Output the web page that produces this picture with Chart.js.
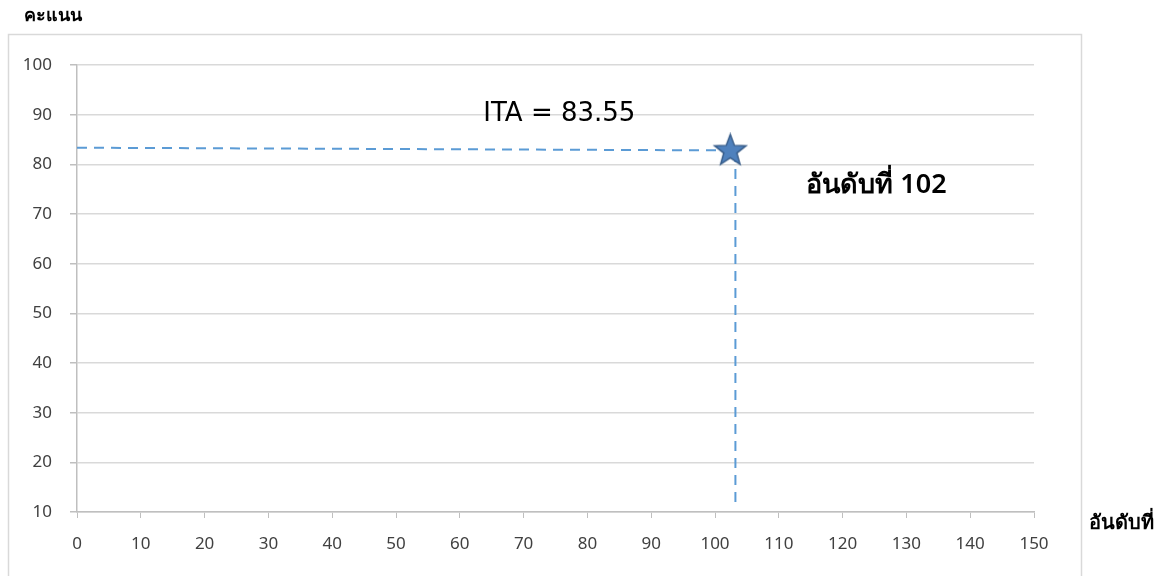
<!DOCTYPE html>
<html>
<head>
<meta charset="utf-8">
<script src="https://cdn.jsdelivr.net/npm/chart.js@4.4.0/dist/chart.umd.min.js"></script>
<style>
  html,body{margin:0;padding:0;background:#fff;overflow:hidden;}
  canvas{display:block;}
</style>
</head>
<body>
<canvas id="c" width="1161" height="576"></canvas>
<script>
// ข้อมูลกราฟ
const xTicks = [0,10,20,30,40,50,60,70,80,90,100,110,120,130,140,150];
const yTicks = [10,20,30,40,50,60,70,80,90,100];
const hLineX = [0, 102.4];
const hLineY = [83.35, 82.8];
const vLineX = [103.2, 103.2];
const vLineY = [82.5, 11.4];
const starX = [102.4];
const starY = [82.7];
const itaLabel = "ITA = 83.55";
const rankLabel = "อันดับที่ 102";
const yTitle = "คะแนน";
const xTitle = "อันดับที่";

const FONT = "'Noto Sans','Open Sans','DejaVu Sans',sans-serif";
const WIDE = "'DejaVu Sans','Noto Sans',sans-serif";
const BLUE = "#5b9bd5";

const pts = (xs, ys) => xs.map((x,i)=>({x, y: ys[i]}));

// ดาว 5 แฉก
function makeStar(R){
  const s = Math.ceil(R*2+4), c = document.createElement("canvas");
  c.width = s; c.height = s;
  const g = c.getContext("2d"), cx = s/2, cy = s/2, r = R*0.42;
  g.beginPath();
  for(let i=0;i<10;i++){
    const a = -Math.PI/2 + i*Math.PI/5, rr = i%2 ? r : R;
    g.lineTo(cx + rr*Math.cos(a), cy + rr*Math.sin(a));
  }
  g.closePath();
  g.fillStyle = "#4f81bd"; g.fill();
  g.lineWidth = 1.5; g.strokeStyle = "#385d8a"; g.stroke();
  return c;
}

const frame = {
  id: "frame",
  beforeDraw(chart){
    const g = chart.ctx;
    g.save();
    g.strokeStyle = "#d9d9d9"; g.lineWidth = 1.5;
    g.strokeRect(8.5, 34.5, 1073, 600);
    g.restore();
  },
  afterDraw(chart){
    const g = chart.ctx, xs = chart.scales.x, ys = chart.scales.y;
    g.save();
    g.fillStyle = "#000";
    g.textBaseline = "middle";
    g.font = "bold 18px " + FONT;
    g.textAlign = "left";
    g.fillText(yTitle, 24, 16);
    g.font = "bold 20px " + FONT;
    g.fillText(xTitle, 1089, 523);
    g.font = "26px " + WIDE;
    g.textAlign = "center";
    g.fillText(itaLabel, xs.getPixelForValue(75.6), ys.getPixelForValue(90.1));
    g.font = "600 27px " + FONT;
    g.fillText(rankLabel, xs.getPixelForValue(125.3), ys.getPixelForValue(75.8));
    g.restore();
  }
};

new Chart(document.getElementById("c"), {
  type: "scatter",
  data: {
    datasets: [
      { data: pts(hLineX, hLineY), showLine: true, borderColor: BLUE, borderWidth: 2,
        borderDash: [10,7], pointRadius: 0, order: 2 },
      { data: pts(vLineX, vLineY), showLine: true, borderColor: BLUE, borderWidth: 2,
        borderDash: [10,7], pointRadius: 0, order: 2 },
      { data: pts(starX, starY), pointStyle: makeStar(16.5), pointRadius: 17, order: 1 }
    ]
  },
  plugins: [frame],
  options: {
    responsive: false,
    animation: false,
    devicePixelRatio: 1,
    layout: { padding: { top: 65, right: 127, left: 0, bottom: 0 } },
    plugins: { legend: { display: false }, tooltip: { enabled: false } },
    scales: {
      x: {
        type: "linear", min: 0, max: 150,
        afterBuildTicks: s => { s.ticks = xTicks.map(v=>({value:v})); },
        afterFit: s => { s.height = 64; },
        grid: { drawOnChartArea: false, tickLength: 6, tickColor: "#bfbfbf" },
        border: { color: "#bfbfbf", width: 1.5 },
        ticks: { color: "#404040", font: { family: FONT, size: 17 }, padding: 16,
                 maxRotation: 0, autoSkip: false }
      },
      y: {
        type: "linear", min: 10, max: 100,
        afterBuildTicks: s => { s.ticks = yTicks.map(v=>({value:v})); },
        afterFit: s => { s.width = 77; },
        grid: { color: "#d9d9d9", lineWidth: 1.5, tickLength: 7, tickColor: "#bfbfbf" },
        border: { color: "#bfbfbf", width: 1.5 },
        ticks: { color: "#404040", font: { family: FONT, size: 17 }, padding: 18, autoSkip: false }
      }
    }
  }
});
</script>
</body>
</html>
